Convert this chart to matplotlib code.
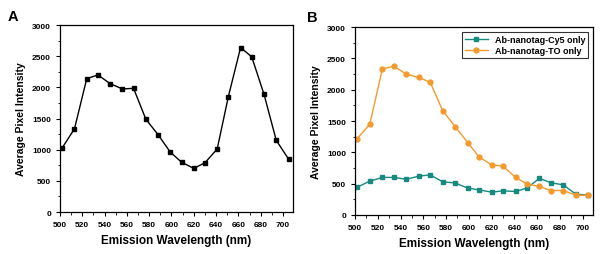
import matplotlib
matplotlib.use("Agg")
import matplotlib.pyplot as plt
from matplotlib.ticker import MultipleLocator

plt.rcParams['font.family'] = ['Liberation Sans', 'DejaVu Sans']
plt.rcParams['font.weight'] = 'bold'

wavelength = [502, 513, 524, 534, 545, 556, 566, 577, 588, 599,
              609, 620, 630, 641, 651, 662, 672, 683, 694, 705]
a_intensity = [1030, 1335, 2140, 2200, 2060, 1975, 1985, 1490, 1240, 960,
               800, 700, 790, 1010, 1850, 2640, 2490, 1890, 1150, 850]
cy5_intensity = [445, 540, 600, 600, 570, 620, 640, 530, 510, 430,
                 400, 365, 385, 375, 430, 585, 515, 480, 330, 320]
to_intensity = [1220, 1450, 2330, 2375, 2250, 2195, 2120, 1665, 1410, 1155,
                925, 800, 780, 600, 495, 455, 390, 390, 315, 315]
xticks = [500, 520, 540, 560, 580, 600, 620, 640, 660, 680, 700]

fig = plt.figure(figsize=(6.01, 2.55), dpi=100)
axA = fig.add_axes([0.0998, 0.1647, 0.3877, 0.733])
axB = fig.add_axes([0.5907, 0.153, 0.396, 0.737])

teal = '#178a80'
orange = '#f39a2e'

axA.plot(wavelength, a_intensity, color='black', marker='s', markersize=3, lw=1)
axB.plot(wavelength, cy5_intensity, color=teal, marker='s', markersize=3, lw=1,
         label='Ab-nanotag-Cy5 only')
axB.plot(wavelength, to_intensity, color=orange, marker='o', markersize=3.5, lw=1,
         label='Ab-nanotag-TO only')

for ax in (axA, axB):
    ax.set_xlim(500, 709)
    ax.set_ylim(0, 3000)
    ax.set_xticks(xticks)
    ax.xaxis.set_minor_locator(MultipleLocator(10))
    ax.yaxis.set_major_locator(MultipleLocator(500))
    ax.yaxis.set_minor_locator(MultipleLocator(250))
    ax.tick_params(axis='both', which='major', direction='out', length=3, width=0.8,
                   labelsize=6)
    ax.tick_params(axis='both', which='minor', direction='out', length=1.8, width=0.6)
    for lab in ax.get_xticklabels() + ax.get_yticklabels():
        lab.set_fontweight('bold')
    for s in ax.spines.values():
        s.set_linewidth(0.9)
    ax.set_xlabel('Emission Wavelength (nm)', fontsize=8.5, fontweight='bold', labelpad=4)
    ax.set_ylabel('Average Pixel Intensity', fontsize=7.5, fontweight='bold', labelpad=4)

leg = axB.legend(loc='upper right', frameon=True, fancybox=False,
                 edgecolor='black', borderpad=0.35, handlelength=2.5,
                 labelspacing=0.25, borderaxespad=0.5, prop={'weight': 'bold', 'size': 6.5})
leg.get_frame().set_linewidth(0.8)

fig.text(0.012, 0.918, 'A', fontsize=10.5, fontweight='bold')
fig.text(0.511, 0.915, 'B', fontsize=10.5, fontweight='bold')

fig.savefig('out.png', dpi=100)
